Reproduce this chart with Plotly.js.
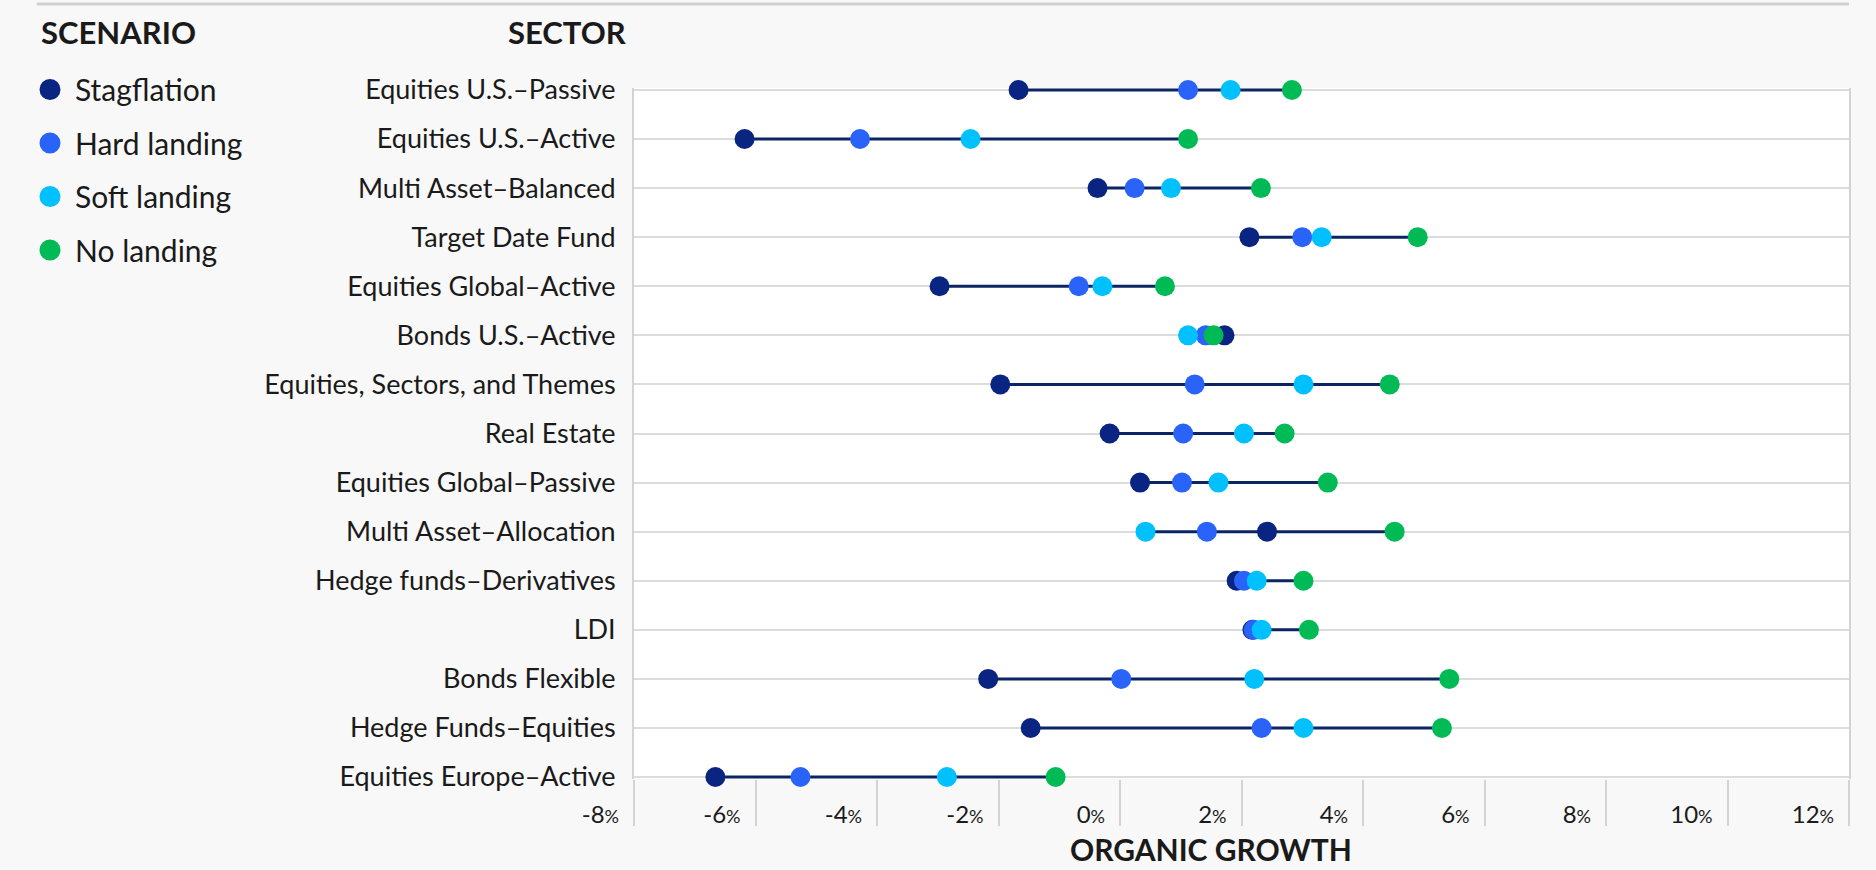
<!DOCTYPE html>
<html>
<head>
<meta charset="utf-8">
<script src="https://cdn.plot.ly/plotly-3.0.1.min.js"></script>
<style>
html, body { margin: 0; padding: 0; background: #f8f8f8; }
#chart { width: 1876px; height: 870px; }
</style>
</head>
<body>
<div id="chart"></div>
<script>
// ---------- data ----------
const sectors = [
  'Equities U.S.–Passive',
  'Equities U.S.–Active',
  'Multi Asset–Balanced',
  'Target Date Fund',
  'Equities Global–Active',
  'Bonds U.S.–Active',
  'Equities, Sectors, and Themes',
  'Real Estate',
  'Equities Global–Passive',
  'Multi Asset–Allocation',
  'Hedge funds–Derivatives',
  'LDI',
  'Bonds Flexible',
  'Hedge Funds–Equities',
  'Equities Europe–Active'
];
const stagflation = [-1.67, -6.18, -0.37, 2.13, -2.97, 1.72, -1.97, -0.17, 0.33, 2.42, 1.92, 2.18, -2.17, -1.47, -6.66];
const hardLanding = [1.12, -4.28, 0.24, 3.00, -0.68, 1.41, 1.23, 1.04, 1.02, 1.43, 2.04, 2.20, 0.02, 2.33, -5.26];
const softLanding = [1.82, -2.46, 0.84, 3.32, -0.29, 1.12, 3.02, 2.04, 1.62, 0.42, 2.25, 2.33, 2.21, 3.02, -2.85];
const noLanding   = [2.83, 1.12, 2.32, 4.90, 0.74, 1.54, 4.44, 2.71, 3.42, 4.52, 3.02, 3.11, 5.42, 5.30, -1.06];

const scenarioNames = ['Stagflation', 'Hard landing', 'Soft landing', 'No landing'];
const scenarioValues = [stagflation, hardLanding, softLanding, noLanding];
const scenarioColors = ['#0a2481', '#2a63fa', '#00c0fd', '#00bb55'];

const xTickValues = [-8, -6, -4, -2, 0, 2, 4, 6, 8, 10, 12];
const xTickLabels = ['-8', '-6', '-4', '-2', '0', '2', '4', '6', '8', '10', '12'];

// ---------- geometry (pixels) ----------
const W = 1876, H = 870;
const rowTop = 90, rowBottom = 777;          // pixel rows of first / last sector
const nRows = sectors.length;
const rowStep = (rowBottom - rowTop) / (nRows - 1);
const catPad = 0.04;                          // keeps edge range lines unclipped
const mL = 633.5, mR = 27;
const mT = rowTop - catPad * rowStep;
const mB = H - (rowBottom + catPad * rowStep);
const plotW = W - mL - mR, plotH = H - mT - mB;
const px2x = p => (p - mL) / plotW;
const py2y = p => 1 - (p - mT) / plotH;

const FONT = 'Lato, "Noto Sans", sans-serif';
const TXT = '#1a1a1a';

// ---------- traces ----------
const traces = [];

// connecting range lines
const lx = [], ly = [];
sectors.forEach((s, i) => {
  const vals = scenarioValues.map(a => a[i]);
  lx.push(Math.min(...vals), Math.max(...vals), null);
  ly.push(s, s, null);
});
traces.push({
  type: 'scatter', mode: 'lines', x: lx, y: ly,
  line: { color: '#0b2462', width: 3 },
  hoverinfo: 'skip', showlegend: false, cliponaxis: false
});

// scenario dots
scenarioNames.forEach((name, k) => {
  traces.push({
    type: 'scatter', mode: 'markers', name: name,
    x: scenarioValues[k], y: sectors,
    marker: { color: scenarioColors[k], size: 20, line: { width: 0 } },
    showlegend: false, cliponaxis: false
  });
});

// legend-only entries (bigger glyphs)
scenarioNames.forEach((name, k) => {
  traces.push({
    type: 'scatter', mode: 'markers', name: name,
    x: [null], y: [null],
    legendgroup: 'g' + k,
    marker: { color: scenarioColors[k], size: 16, line: { width: 5, color: scenarioColors[k] } },
    showlegend: true
  });
});

const pct = "<span style='font-size:18px'>%</span>";

const layout = {
  width: W, height: H,
  paper_bgcolor: '#f8f8f8',
  plot_bgcolor: '#ffffff',
  margin: { l: mL, r: mR, t: mT, b: mB, pad: 0 },
  font: { family: FONT, color: TXT, size: 26 },
  showlegend: true,
  legend: {
    xref: 'container', yref: 'container',
    x: 25 / W, y: 1 - 63.5 / H, xanchor: 'left', yanchor: 'top',
    bgcolor: 'rgba(0,0,0,0)',
    font: { family: FONT, size: 30, color: TXT },
    tracegroupgap: 11.5,
    itemwidth: 40,
    itemclick: false, itemdoubleclick: false
  },
  xaxis: {
    range: [-8, 12],
    tickmode: 'array',
    tickvals: xTickValues,
    ticktext: xTickLabels.map(t => t + pct),
    ticks: 'outside', ticklen: 46, tickwidth: 2, tickcolor: '#d3d3d3',
    ticklabelposition: 'outside left',
    ticklabelstandoff: 14,
    ticklabelshift: -14,
    tickfont: { family: FONT, size: 24, color: TXT },
    showgrid: false, zeroline: false, showline: false,
    fixedrange: true
  },
  yaxis: {
    type: 'category',
    categoryorder: 'array', categoryarray: sectors,
    range: [nRows - 1 + catPad, -catPad],
    showgrid: true, gridcolor: '#dcdcdc', gridwidth: 2,
    showline: true, mirror: true, linecolor: '#d3d3d3', linewidth: 2,
    ticks: '', ticklabelstandoff: 11,
    tickfont: { family: FONT, size: 27, color: TXT },
    zeroline: false, fixedrange: true
  },
  shapes: [
    { type: 'line', xref: 'paper', yref: 'paper',
      x0: px2x(36), x1: px2x(1849), y0: py2y(4), y1: py2y(4),
      line: { color: '#cfcfcf', width: 3 } }
  ],
  annotations: [
    { xref: 'paper', yref: 'paper', x: px2x(38), y: py2y(32),
      xanchor: 'left', yanchor: 'middle', showarrow: false,
      text: '<b>SCENARIO</b>', font: { family: FONT, size: 31, color: TXT } },
    { xref: 'paper', yref: 'paper', x: px2x(627), y: py2y(32),
      xanchor: 'right', yanchor: 'middle', showarrow: false,
      text: '<b>SECTOR</b>', font: { family: FONT, size: 31, color: TXT } },
    { xref: 'paper', yref: 'paper', x: px2x(1211), y: py2y(869),
      xanchor: 'center', yanchor: 'bottom', showarrow: false,
      text: '<b>ORGANIC GROWTH</b>', font: { family: FONT, size: 30, color: TXT } }
  ]
};

Plotly.newPlot('chart', traces, layout, { displayModeBar: false, staticPlot: true });
</script>
</body>
</html>
